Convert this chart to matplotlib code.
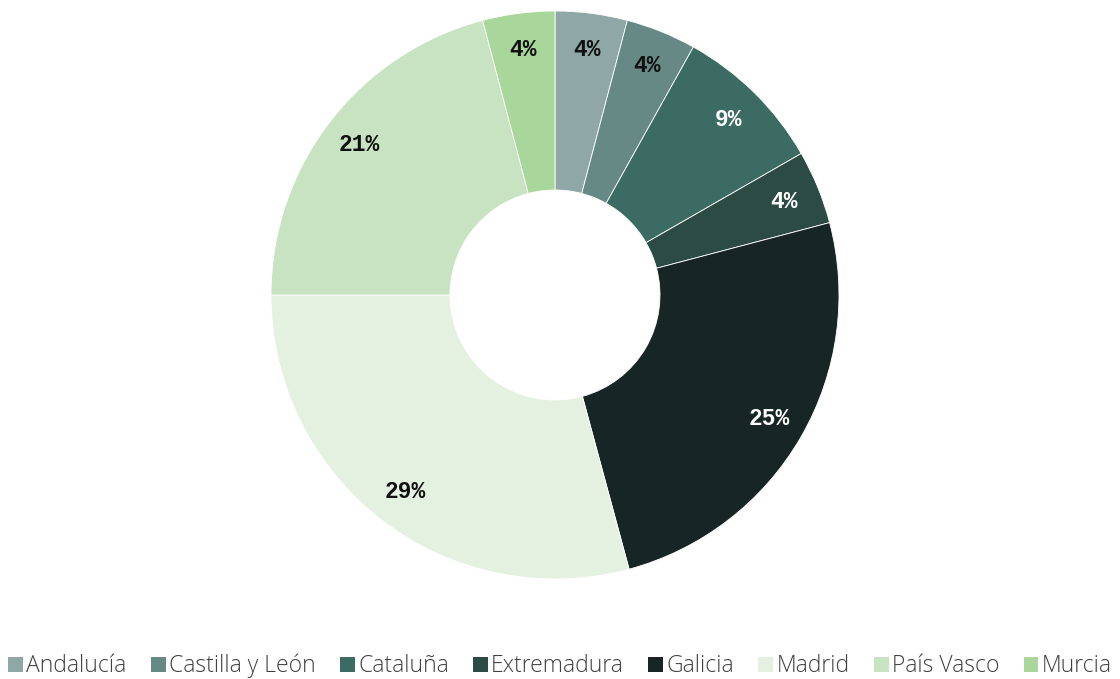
import matplotlib
matplotlib.use("Agg")
import matplotlib.pyplot as plt
from matplotlib.patches import Patch
import numpy as np

categories = ["Andalucía", "Castilla y León", "Cataluña", "Extremadura", "Galicia", "Madrid", "País Vasco", "Murcia"]
values = [4.1, 4.0, 8.6, 4.2, 24.9, 29.2, 20.9, 4.1]
labels = ["4%", "4%", "9%", "4%", "25%", "29%", "21%", "4%"]
colors = ["#8FA8A7", "#668985", "#3B6B63", "#2C4B45", "#172624", "#E4F1E0", "#C8E3C1", "#A9D69A"]
label_colors = ["#111111", "#111111", "#FFFFFF", "#FFFFFF", "#FFFFFF", "#111111", "#111111", "#111111"]

W, H = 1120, 679
fig = plt.figure(figsize=(W / 100, H / 100), dpi=100)
cx, cy, R = 555, 295, 284
ax = fig.add_axes([(cx - R) / W, (H - cy - R) / H, 2 * R / W, 2 * R / H])
wedges, _ = ax.pie(values, colors=colors, startangle=90, counterclock=False, radius=1,
                   wedgeprops=dict(width=1 - 105 / 284, edgecolor="white", linewidth=0.6))
total = sum(values)
cum = 0
for v, lab, lc in zip(values, labels, label_colors):
    mid = (cum + v / 2) / total * 2 * np.pi
    cum += v
    r = 0.87
    x, y = r * np.sin(mid), r * np.cos(mid)
    ax.text(x, y, lab, ha="center", va="center", color=lc, fontsize=16.5,
            family=["Liberation Mono", "DejaVu Sans Mono"], fontweight="bold")
ax.set_xlim(-1, 1)
ax.set_ylim(-1, 1)
ax.set_aspect("equal")
ax.axis("off")

handles = [Patch(facecolor=c, edgecolor="none") for c in colors]
leg = fig.legend(handles, categories, loc="center", bbox_to_anchor=(0.5, 13 / H), ncol=8,
                 frameon=False, handlelength=0.65, handleheight=0.65,
                 handletextpad=0.15, columnspacing=1.05,
                 prop=dict(family="Open Sans", weight="light", size=16.5))
for t in leg.get_texts():
    t.set_color("#404040")
fig.savefig("out.png", dpi=100)
